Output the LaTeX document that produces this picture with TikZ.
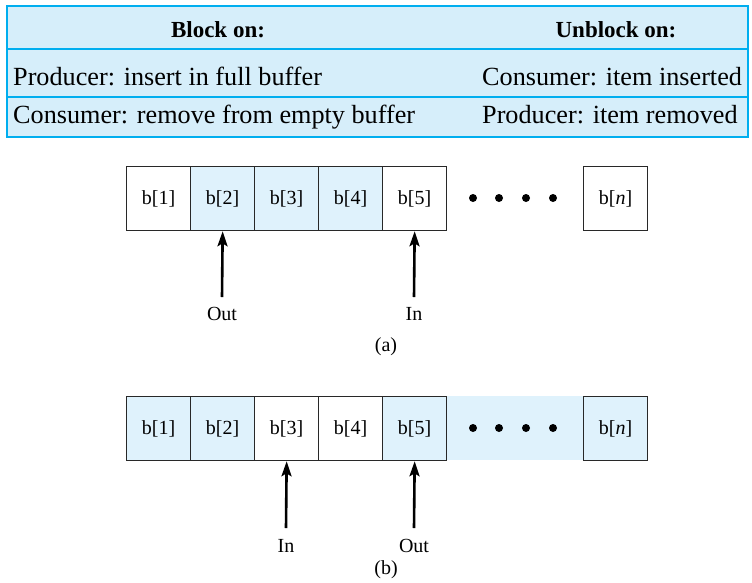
\documentclass[tikz,border=0pt]{standalone}
\usepackage{fontspec}
\setmainfont{Liberation Serif}
\usetikzlibrary{arrows.meta}
\definecolor{tabfill}{RGB}{214,238,250}
\definecolor{tabline}{RGB}{0,174,239}
\definecolor{cellfill}{RGB}{223,242,252}
\definecolor{cellline}{RGB}{40,40,40}
\begin{document}
\begin{tikzpicture}[x=1pt,y=-1pt,
  cell/.style={draw=cellline, line width=1.3pt, minimum width=64pt, minimum height=64pt,
    inner sep=0pt, anchor=north west, font=\fontsize{20}{24}\selectfont},
  full/.style={cell, fill=cellfill},
  lbl/.style={anchor=base, inner sep=0pt, font=\fontsize{20}{24}\selectfont},
  body/.style={anchor=base west, inner sep=0pt, font=\fontsize{26.2}{30}\selectfont},
  head/.style={anchor=base, inner sep=0pt, font=\fontsize{23}{28}\selectfont\bfseries},
  ptr/.style={line width=2.6pt, -{Stealth[length=15pt,width=10pt,inset=3pt]}},
  dot/.style={circle, fill=black, inner sep=0pt, minimum size=8pt}]
\useasboundingbox (0,0) rectangle (752,582);
% table
\fill[tabfill] (7,6) rectangle (748,137);
\draw[tabline, line width=2.5pt] (7,49) -- (748,49);
\draw[tabline, line width=2.5pt] (7,97) -- (748,97);
\draw[tabline, line width=2.5pt] (7,6) rectangle (748,137);
\node[head] (h1) at (218,37) {Block on:};
\node[head] (h2) at (616,37) {Unblock on:};
\node[body] (r1a) at (13,85) {Producer: insert in full buffer};
\node[body] (r1b) at (482,85) {Consumer: item inserted};
\node[body] (r2a) at (13,123) {Consumer: remove from empty buffer};
\node[body] (r2b) at (482,123) {Producer: item removed};
% (a)
\node[cell] (a1) at (126,166) {b[1]};
\node[full] (a2) at (190,166) {b[2]};
\node[full] (a3) at (254,166) {b[3]};
\node[full] (a4) at (318,166) {b[4]};
\node[cell] (a5) at (382,166) {b[5]};
\node[cell] (an) at (583,166) {b[\textit{n}]};
\node[dot] (ad1) at (473,198) {};
\node[dot] (ad2) at (499,198) {};
\node[dot] (ad3) at (526,198) {};
\node[dot] (ad4) at (553,198) {};
\coordinate (ta1) at (222,297);
\coordinate (ta2) at (414,297);
\draw[ptr] (ta1) -- (a2.south);
\draw[ptr] (ta2) -- (a5.south);
\node[lbl] (outa) at (222,320) {Out};
\node[lbl] (ina) at (414,320) {In};
\node[lbl] (capa) at (386,351) {(a)};
% (b)
\fill[cellfill] (446,396) rectangle (583,460);
\node[full] (b1) at (126,396) {b[1]};
\node[full] (b2) at (190,396) {b[2]};
\node[cell] (b3) at (254,396) {b[3]};
\node[cell] (b4) at (318,396) {b[4]};
\node[full] (b5) at (382,396) {b[5]};
\node[full] (bn) at (583,396) {b[\textit{n}]};
\node[dot] (bd1) at (473,428) {};
\node[dot] (bd2) at (499,428) {};
\node[dot] (bd3) at (526,428) {};
\node[dot] (bd4) at (553,428) {};
\coordinate (tb1) at (286,528);
\coordinate (tb2) at (414,528);
\draw[ptr] (tb1) -- (b3.south);
\draw[ptr] (tb2) -- (b5.south);
\node[lbl] (inb) at (286,552) {In};
\node[lbl] (outb) at (414,552) {Out};
\node[lbl] (capb) at (386,574) {(b)};
\end{tikzpicture}
\end{document}
